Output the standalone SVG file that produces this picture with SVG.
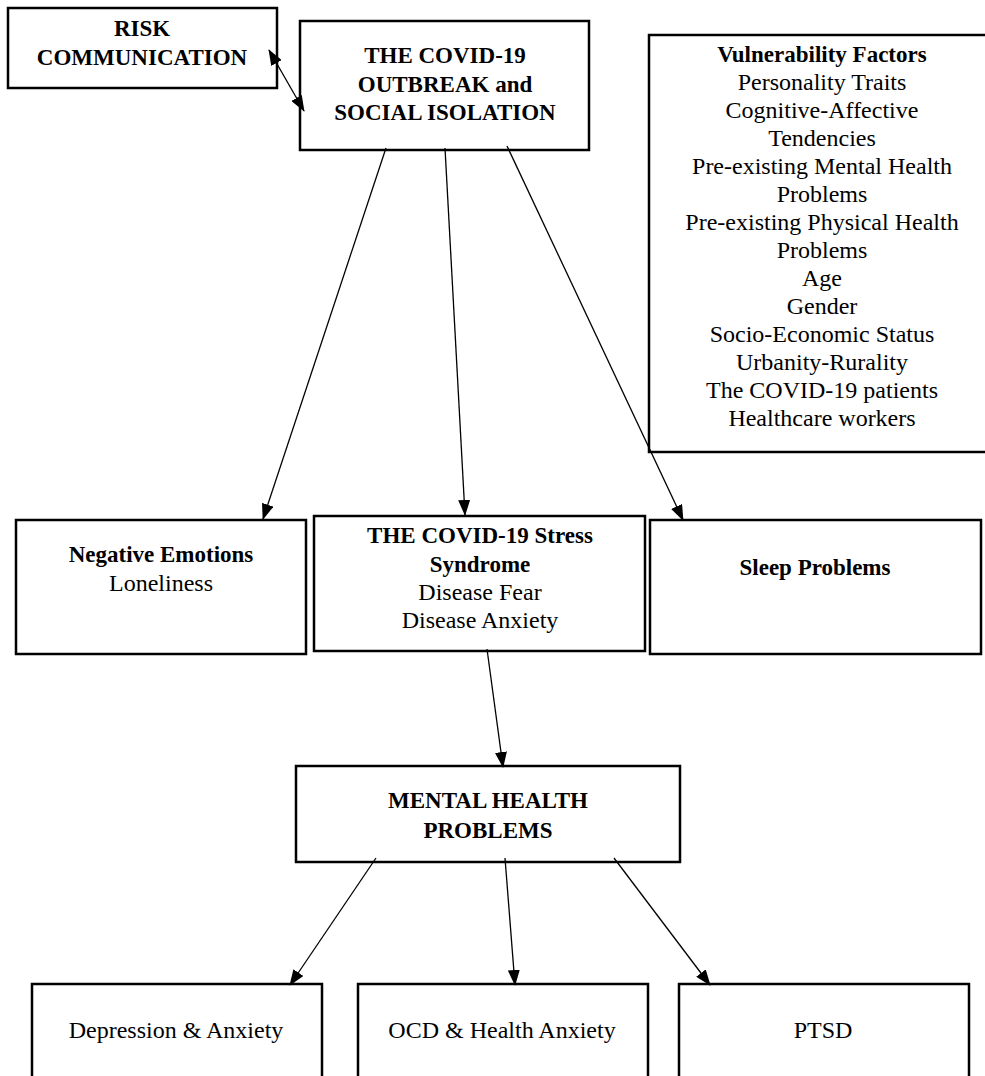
<svg xmlns="http://www.w3.org/2000/svg" width="985" height="1076" viewBox="0 0 985 1076">
<defs>
<style>
.box{fill:#fff;stroke:#000;stroke-width:2.5}
.t{font-family:"Liberation Serif","Times New Roman",serif;font-size:24px;fill:#000;text-anchor:middle}
.b{font-weight:bold;font-size:23px}
.c{stroke:#000;stroke-width:1.3;fill:none}
</style>
<marker id="ah" markerWidth="16" markerHeight="12" refX="15" refY="6" orient="auto-start-reverse" markerUnits="userSpaceOnUse">
<path d="M0,0 L16,6 L0,12 Z" fill="#000"/>
</marker>
</defs>
<rect width="985" height="1076" fill="#fff"/>
<g id="risk">
<rect class="box" x="8" y="8" width="269" height="80"/>
<text class="t b" x="142" y="36">RISK</text>
<text class="t b" x="142" y="65">COMMUNICATION</text>
</g>
<g id="outbreak">
<rect class="box" x="300" y="21" width="289" height="129"/>
<text class="t b" x="445" y="63">THE COVID-19</text>
<text class="t b" x="445" y="92">OUTBREAK and</text>
<text class="t b" x="445" y="120">SOCIAL ISOLATION</text>
</g>
<g id="vulnerability">
<rect class="box" x="649" y="35" width="345" height="417"/>
<text class="t b" x="822" y="62">Vulnerability Factors</text>
<text class="t" x="822" y="90">Personality Traits</text>
<text class="t" x="822" y="118">Cognitive-Affective</text>
<text class="t" x="822" y="146">Tendencies</text>
<text class="t" x="822" y="174">Pre-existing Mental Health</text>
<text class="t" x="822" y="202">Problems</text>
<text class="t" x="822" y="230">Pre-existing Physical Health</text>
<text class="t" x="822" y="258">Problems</text>
<text class="t" x="822" y="286">Age</text>
<text class="t" x="822" y="314">Gender</text>
<text class="t" x="822" y="342">Socio-Economic Status</text>
<text class="t" x="822" y="370">Urbanity-Rurality</text>
<text class="t" x="822" y="398">The COVID-19 patients</text>
<text class="t" x="822" y="426">Healthcare workers</text>
</g>
<g id="negative">
<rect class="box" x="16" y="520" width="290" height="134"/>
<text class="t b" x="161" y="562">Negative Emotions</text>
<text class="t" x="161" y="591">Loneliness</text>
</g>
<g id="stress">
<rect class="box" x="314" y="516" width="331" height="135"/>
<text class="t b" x="480" y="543">THE COVID-19 Stress</text>
<text class="t b" x="480" y="572">Syndrome</text>
<text class="t" x="480" y="600">Disease Fear</text>
<text class="t" x="480" y="628">Disease Anxiety</text>
</g>
<g id="sleep">
<rect class="box" x="650" y="520" width="331" height="134"/>
<text class="t b" x="815" y="575">Sleep Problems</text>
</g>
<g id="mental">
<rect class="box" x="296" y="766" width="384" height="96"/>
<text class="t b" x="488" y="808">MENTAL HEALTH</text>
<text class="t b" x="488" y="838">PROBLEMS</text>
</g>
<g id="depression">
<rect class="box" x="32" y="984" width="290" height="110"/>
<text class="t" x="176" y="1038">Depression &amp; Anxiety</text>
</g>
<g id="ocd">
<rect class="box" x="358" y="984" width="290" height="110"/>
<text class="t" x="502" y="1038">OCD &amp; Health Anxiety</text>
</g>
<g id="ptsd">
<rect class="box" x="679" y="984" width="290" height="110"/>
<text class="t" x="823" y="1038">PTSD</text>
</g>
<g id="connectors">
<line class="c" x1="269" y1="50" x2="304" y2="111" marker-start="url(#ah)" marker-end="url(#ah)"/>
<line class="c" x1="386" y1="148" x2="263" y2="519" marker-end="url(#ah)"/>
<line class="c" x1="445" y1="148" x2="465" y2="515" marker-end="url(#ah)"/>
<line class="c" x1="507" y1="146" x2="683" y2="520" marker-end="url(#ah)"/>
<line class="c" x1="487" y1="649" x2="503" y2="767" marker-end="url(#ah)"/>
<line class="c" x1="376" y1="858" x2="290" y2="985" marker-end="url(#ah)"/>
<line class="c" x1="505" y1="858" x2="515" y2="985" marker-end="url(#ah)"/>
<line class="c" x1="614" y1="858" x2="710" y2="985" marker-end="url(#ah)"/>
</g>
</svg>
